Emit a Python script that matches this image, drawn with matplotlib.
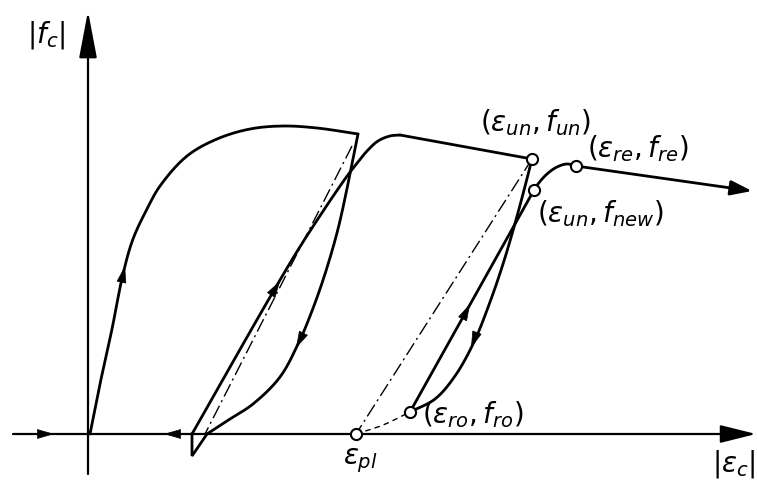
import numpy as np
import matplotlib.pyplot as plt

plt.rcParams['mathtext.fontset'] = 'dejavusans'

# envelope up to the first unloading point
env1_eps = [0, 0.10, 0.22, 0.33, 0.43, 0.57, 0.70, 0.97, 1.27, 1.60, 1.93, 2.27, 2.68]
env1_f = [0, 0.50, 1.05, 1.60, 1.95, 2.25, 2.48, 2.78, 2.95, 3.05, 3.08, 3.06, 3.00]

# first unloading branch, then the small excursion into tension
unl1_eps = [2.68, 2.59, 2.48, 2.35, 2.22, 2.09, 1.90, 1.63, 1.40, 1.23, 1.17]
unl1_f = [3.00, 2.55, 2.05, 1.60, 1.23, 0.92, 0.57, 0.30, 0.15, 0.04, 0.0]
ten_eps = [1.17, 1.02, 1.02]
ten_f = [0.0, -0.22, 0.0]

# reloading back onto the envelope, then softening branch to (eps_un, f_un)
rel1_eps = [1.02, 1.83, 2.13, 2.55, 2.68, 2.78, 2.88, 3.00, 3.10]
rel1_f = [0.0, 1.42, 1.92, 2.55, 2.72, 2.84, 2.93, 2.98, 2.99]
soft_eps = [3.10, 4.42]
soft_f = [2.99, 2.75]

# second unloading branch down to (eps_ro, f_ro)
unl2_eps = [4.42, 4.33, 4.24, 4.13, 4.00, 3.84, 3.65, 3.45, 3.20]
unl2_f = [2.75, 2.40, 2.07, 1.70, 1.32, 0.92, 0.58, 0.35, 0.22]

# linear reloading from (eps_ro, f_ro) to (eps_un, f_new)
rel2_eps = [3.20, 4.44]
rel2_f = [0.22, 2.44]

# transition curve to (eps_re, f_re) and the continued envelope
tr_eps = [4.44, 4.48, 4.57, 4.67, 4.77, 4.86]
tr_f = [2.44, 2.50, 2.60, 2.67, 2.70, 2.68]
env2_eps = [4.86, 6.62]
env2_f = [2.68, 2.43]

# secant (dash-dot) lines and plastic strain link (dashed)
sec1_eps = [2.62, 1.15]
sec1_f = [2.88, 0.0]
sec2_eps = [4.42, 2.66]
sec2_f = [2.75, 0.0]
pl_eps = [2.66, 2.93, 3.20]
pl_f = [0.0, 0.09, 0.22]

# characteristic points
pts_eps = [4.42, 4.44, 4.86, 3.20, 2.66]
pts_f = [2.75, 2.44, 2.68, 0.22, 0.0]

# direction arrows: (tail, tip)
dir_arrows = [
    ((0.30, 1.45), (0.35, 1.68)),
    ((1.80, 1.37), (1.90, 1.53)),
    ((2.13, 1.00), (2.06, 0.86)),
    ((3.74, 1.18), (3.80, 1.30)),
    ((3.86, 0.99), (3.81, 0.86)),
    ((-0.52, 0.0), (-0.36, 0.0)),
    ((0.90, 0.0), (0.74, 0.0)),
]


def smooth(xs, ys, n=16):
    # centripetal Catmull-Rom through the given points
    p = np.column_stack([xs, ys]).astype(float)
    p = np.vstack([2 * p[0] - p[1], p, 2 * p[-1] - p[-2]])
    out = [p[1]]
    for i in range(1, len(p) - 2):
        p0, p1, p2, p3 = p[i - 1], p[i], p[i + 1], p[i + 2]
        t0 = 0.0
        t1 = t0 + np.linalg.norm(p1 - p0) ** 0.5
        t2 = t1 + np.linalg.norm(p2 - p1) ** 0.5
        t3 = t2 + np.linalg.norm(p3 - p2) ** 0.5
        for t in np.linspace(t1, t2, n)[1:]:
            a1 = (t1 - t) / (t1 - t0) * p0 + (t - t0) / (t1 - t0) * p1
            a2 = (t2 - t) / (t2 - t1) * p1 + (t - t1) / (t2 - t1) * p2
            a3 = (t3 - t) / (t3 - t2) * p2 + (t - t2) / (t3 - t2) * p3
            b1 = (t2 - t) / (t2 - t0) * a1 + (t - t0) / (t2 - t0) * a2
            b2 = (t3 - t) / (t3 - t1) * a2 + (t - t1) / (t3 - t1) * a3
            out.append((t2 - t) / (t2 - t1) * b1 + (t - t1) / (t2 - t1) * b2)
    out = np.array(out)
    return out[:, 0], out[:, 1]


fig = plt.figure(figsize=(7.57, 4.81), dpi=100)
ax = fig.add_axes([0, 0, 1, 1])
ax.set_xlim(-0.90, 6.67)
ax.set_ylim(-0.46, 4.35)
ax.axis('off')

lw = 2.0
for xs, ys in [(env1_eps, env1_f), (unl1_eps, unl1_f), (rel1_eps, rel1_f),
               (unl2_eps, unl2_f), (tr_eps, tr_f)]:
    ax.plot(*smooth(xs, ys), 'k', lw=lw, solid_capstyle='round')
ax.plot(ten_eps, ten_f, 'k', lw=lw, solid_joinstyle='miter')
ax.plot(soft_eps, soft_f, 'k', lw=lw, solid_capstyle='round')
ax.plot(rel2_eps, rel2_f, 'k', lw=lw)
ax.plot(sec1_eps, sec1_f, 'k', lw=1.0, linestyle=(0, (10, 3, 1.5, 3)))
ax.plot(sec2_eps, sec2_f, 'k', lw=1.0, linestyle=(0, (10, 3, 1.5, 3)))
ax.plot(*smooth(pl_eps, pl_f), 'k', lw=1.0, linestyle=(0, (4, 3)))

# coordinate axes
ax.annotate('', xy=(6.66, 0), xytext=(-0.77, 0),
            arrowprops=dict(arrowstyle='-|>,head_length=2.2,head_width=0.55',
                            color='k', lw=1.6, mutation_scale=10,
                            shrinkA=0, shrinkB=0))
ax.annotate('', xy=(-0.02, 4.23), xytext=(-0.02, -0.40),
            arrowprops=dict(arrowstyle='-|>,head_length=2.9,head_width=0.55',
                            color='k', lw=1.6, mutation_scale=10,
                            shrinkA=0, shrinkB=0))

# envelope continuation with arrowhead
ax.annotate('', xy=(env2_eps[1], env2_f[1]), xytext=(env2_eps[0], env2_f[0]),
            arrowprops=dict(arrowstyle='-|>,head_length=1.3,head_width=0.45',
                            color='k', lw=lw, mutation_scale=10,
                            shrinkA=0, shrinkB=0))

for tail, tip in dir_arrows:
    ax.annotate('', xy=tip, xytext=tail,
                arrowprops=dict(arrowstyle='-|>,head_length=1.1,head_width=0.32',
                                color='k', lw=0.5, mutation_scale=10,
                                shrinkA=0, shrinkB=0))

ax.plot(pts_eps, pts_f, 'o', ms=8, mfc='white', mec='k', mew=1.5, zorder=5)

fs = 20
ax.text(-0.25, 4.00, r'$|f_c|$', fontsize=fs, ha='right', va='center')
ax.text(6.66, -0.29, r'$|\varepsilon_c|$', fontsize=fs, ha='right', va='center')
ax.text(2.70, -0.26, r'$\varepsilon_{pl}$', fontsize=fs, ha='center', va='center')
ax.text(3.90, 3.12, r'$(\varepsilon_{un},f_{un})$', fontsize=fs, ha='left', va='center')
ax.text(4.97, 2.86, r'$(\varepsilon_{re},f_{re})$', fontsize=fs, ha='left', va='center')
ax.text(4.47, 2.21, r'$(\varepsilon_{un},f_{new})$', fontsize=fs, ha='left', va='center')
ax.text(3.32, 0.20, r'$(\varepsilon_{ro},f_{ro})$', fontsize=fs, ha='left', va='center')

fig.savefig('out.png', dpi=100)
